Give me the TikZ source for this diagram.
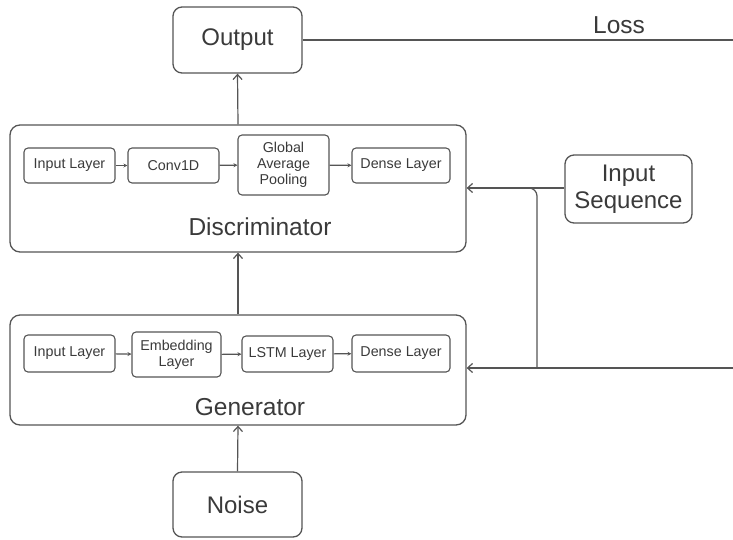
\documentclass[tikz,border=0pt]{standalone}
\usepackage{fontspec}
\setmainfont{Liberation Sans}
\usetikzlibrary{arrows.meta}
\definecolor{edge}{HTML}{555555}
\definecolor{ink}{HTML}{3A3A3A}
\begin{document}
\begin{tikzpicture}[x=1pt,y=-1pt,
  every node/.style={text=ink},
  bigbox/.style={draw=edge,line width=1.3pt,rounded corners=9pt,fill=white,
    inner sep=0pt,align=center,font=\fontsize{24}{27}\selectfont},
  block/.style={draw=edge,line width=1.3pt,rounded corners=10pt,inner sep=0pt},
  layer/.style={draw=edge,line width=1.1pt,rounded corners=4pt,inner sep=0pt,
    align=center,font=\fontsize{14.3}{16}\selectfont},
  flow/.style={draw=edge,line width=1.2pt,-{Straight Barb[length=5pt,width=9pt]}},
  link/.style={draw=edge,line width=1.1pt,-{Stealth[length=4pt,width=4pt]}},
  lbl/.style={font=\fontsize{24.5}{27}\selectfont}]
\useasboundingbox (0,0) rectangle (733,539);

% outer blocks
\node[block,minimum width=456pt,minimum height=127pt] (disc) at (238,188.5) {};
\node[block,minimum width=456pt,minimum height=110pt] (gen) at (238,370) {};
\node[lbl] (disclbl) at (260,227) {Discriminator};
\node[lbl] (genlbl) at (250,407) {Generator};

% stand-alone boxes
\node[bigbox,minimum width=129pt,minimum height=66pt] (out) at (237.5,40) {Output};
\node[bigbox,minimum width=129pt,minimum height=65pt] (noise) at (237.5,504.5) {Noise};
\node[bigbox,minimum width=127pt,minimum height=68pt] (seq) at (628.5,189) {Input\\Sequence};

% discriminator layers
\node[layer,minimum width=91pt,minimum height=35pt] (dil) at (69.5,165.5) {Input Layer};
\node[layer,minimum width=91pt,minimum height=35pt] (conv) at (173.5,165.5) {Conv1D};
\node[layer,minimum width=91pt,minimum height=60pt] (gap) at (283.5,165) {Global\\Average\\Pooling};
\node[layer,minimum width=98pt,minimum height=35pt] (ddl) at (401,165.5) {Dense Layer};

% generator layers
\node[layer,minimum width=91pt,minimum height=37pt] (gil) at (69.5,353.5) {Input Layer};
\node[layer,minimum width=89pt,minimum height=45pt] (emb) at (176.5,354.5) {Embedding\\Layer};
\node[layer,minimum width=91pt,minimum height=36pt] (lstm) at (287.5,354) {LSTM Layer};
\node[layer,minimum width=98pt,minimum height=37pt] (gdl) at (401,353.5) {Dense Layer};

% layer links
\draw[link] (dil) -- (conv);
\draw[link] (conv) -- (gap);
\draw[link] (gap) -- (ddl);
\draw[link] (gil) -- (emb);
\draw[link] (emb) -- (lstm);
\draw[link] (lstm) -- (gdl);

% main flow
\draw[flow] (noise.north) -- (gen.south);
\draw[flow] (gen.north) -- (disc.south);
\draw[flow] (disc.north) -- (out.south);

% loss and feedback lines
\coordinate (lossend) at (733,40);
\coordinate (backend) at (733,368);
\coordinate (split) at (537,368);
\draw[draw=edge,line width=1.2pt] (out.east |- lossend) -- (lossend);
\node[lbl] (loss) at (619,25) {Loss};
\draw[flow] (backend) -- (gen.east |- backend);
\draw[flow] (seq.west |- 0,188) -- (disc.east |- 0,188);
\draw[draw=edge,line width=1.2pt,rounded corners=8pt] (split) -- (537,188) -- (520,188);
\end{tikzpicture}
\end{document}
